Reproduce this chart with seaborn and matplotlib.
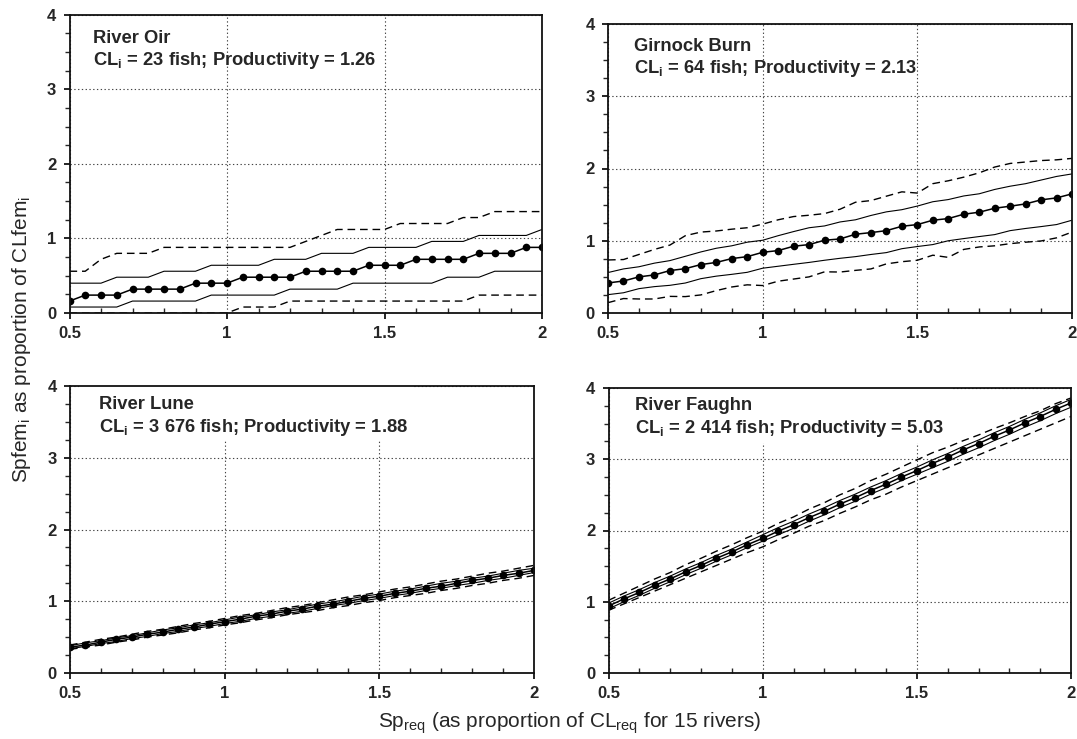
import matplotlib
matplotlib.use("Agg")
import matplotlib.pyplot as plt
from matplotlib.patches import Rectangle
from matplotlib.ticker import MultipleLocator, FixedLocator
import seaborn as sns

sns.set_style("ticks")
plt.rcParams["font.family"] = ["Liberation Sans", "DejaVu Sans"]
plt.rcParams["mathtext.fontset"] = "custom"
plt.rcParams["mathtext.rm"] = "Liberation Sans"
plt.rcParams["mathtext.it"] = "Liberation Sans:italic"
plt.rcParams["mathtext.bf"] = "Liberation Sans:bold"

# Spawning requirement as proportion of the conservation limit
sp_req = [0.50, 0.55, 0.60, 0.65, 0.70, 0.75, 0.80, 0.85, 0.90, 0.95, 1.00,
          1.05, 1.10, 1.15, 1.20, 1.25, 1.30, 1.35, 1.40, 1.45, 1.50,
          1.55, 1.60, 1.65, 1.70, 1.75, 1.80, 1.85, 1.90, 1.95, 2.00]

# River Oir
oir_mean = [0.16, 0.24, 0.24, 0.24, 0.32, 0.32, 0.32, 0.32, 0.40, 0.40, 0.40,
            0.48, 0.48, 0.48, 0.48, 0.56, 0.56, 0.56, 0.56, 0.64, 0.64,
            0.64, 0.72, 0.72, 0.72, 0.72, 0.80, 0.80, 0.80, 0.88, 0.88]
oir_hi = [0.40, 0.40, 0.40, 0.48, 0.48, 0.48, 0.56, 0.56, 0.56, 0.64, 0.64,
          0.64, 0.64, 0.72, 0.72, 0.72, 0.80, 0.80, 0.80, 0.88, 0.88,
          0.88, 0.88, 0.96, 0.96, 0.96, 1.04, 1.04, 1.04, 1.04, 1.12]
oir_lo = [0.08, 0.08, 0.08, 0.08, 0.16, 0.16, 0.16, 0.16, 0.16, 0.24, 0.24,
          0.24, 0.24, 0.24, 0.32, 0.32, 0.32, 0.32, 0.40, 0.40, 0.40,
          0.40, 0.40, 0.40, 0.48, 0.48, 0.48, 0.56, 0.56, 0.56, 0.56]
oir_hi95 = [0.56, 0.56, 0.72, 0.80, 0.80, 0.80, 0.88, 0.88, 0.88, 0.88, 0.88,
            0.88, 0.88, 0.88, 0.88, 0.96, 1.04, 1.12, 1.12, 1.12, 1.12,
            1.20, 1.20, 1.20, 1.20, 1.28, 1.28, 1.36, 1.36, 1.36, 1.36]
oir_lo95 = [0.00, 0.00, 0.00, 0.00, 0.00, 0.00, 0.00, 0.00, 0.00, 0.00, 0.00,
            0.08, 0.08, 0.08, 0.16, 0.16, 0.16, 0.16, 0.16, 0.16, 0.16,
            0.16, 0.16, 0.16, 0.16, 0.16, 0.24, 0.24, 0.24, 0.24, 0.24]

# Girnock Burn
gir_mean = [0.416, 0.443, 0.500, 0.527, 0.587, 0.614, 0.670, 0.700, 0.753, 0.780, 0.840,
            0.864, 0.924, 0.947, 1.007, 1.025, 1.090, 1.113, 1.140, 1.200, 1.224,
            1.284, 1.307, 1.367, 1.395, 1.450, 1.478, 1.510, 1.566, 1.593, 1.649]
gir_hi = [0.560, 0.610, 0.640, 0.690, 0.725, 0.785, 0.845, 0.896, 0.930, 0.980, 1.007,
          1.070, 1.127, 1.180, 1.205, 1.260, 1.290, 1.350, 1.400, 1.430, 1.480,
          1.540, 1.570, 1.620, 1.650, 1.710, 1.755, 1.790, 1.840, 1.890, 1.925]
gir_lo = [0.254, 0.280, 0.337, 0.365, 0.383, 0.415, 0.475, 0.510, 0.535, 0.563, 0.620,
          0.647, 0.674, 0.700, 0.730, 0.757, 0.780, 0.810, 0.836, 0.890, 0.920,
          0.947, 1.000, 1.030, 1.058, 1.085, 1.140, 1.170, 1.196, 1.224, 1.284]
gir_hi95 = [0.734, 0.740, 0.810, 0.880, 0.940, 1.070, 1.120, 1.135, 1.160, 1.180, 1.230,
            1.290, 1.335, 1.353, 1.376, 1.436, 1.533, 1.556, 1.617, 1.677, 1.660,
            1.790, 1.830, 1.880, 1.940, 2.020, 2.070, 2.090, 2.110, 2.120, 2.140]
gir_lo95 = [0.143, 0.200, 0.194, 0.194, 0.230, 0.227, 0.250, 0.310, 0.360, 0.390, 0.380,
            0.440, 0.470, 0.500, 0.570, 0.567, 0.590, 0.610, 0.680, 0.710, 0.730,
            0.800, 0.770, 0.880, 0.914, 0.930, 0.960, 0.980, 0.997, 1.040, 1.120]

# River Lune
lune_mean = [0.36, 0.39, 0.43, 0.47, 0.50, 0.54, 0.57, 0.61, 0.64, 0.68, 0.715,
             0.75, 0.79, 0.82, 0.86, 0.89, 0.93, 0.96, 1.00, 1.04, 1.07,
             1.11, 1.14, 1.18, 1.21, 1.25, 1.29, 1.32, 1.36, 1.39, 1.43]
lune_hi = [0.38, 0.42, 0.45, 0.49, 0.52, 0.56, 0.60, 0.63, 0.67, 0.70, 0.74,
           0.78, 0.81, 0.85, 0.88, 0.92, 0.96, 0.99, 1.03, 1.07, 1.10,
           1.14, 1.17, 1.21, 1.25, 1.28, 1.32, 1.35, 1.39, 1.43, 1.46]
lune_lo = [0.34, 0.37, 0.41, 0.44, 0.48, 0.51, 0.55, 0.58, 0.62, 0.65, 0.69,
           0.72, 0.76, 0.79, 0.83, 0.86, 0.90, 0.94, 0.97, 1.01, 1.04,
           1.08, 1.11, 1.15, 1.18, 1.22, 1.25, 1.29, 1.32, 1.36, 1.40]
lune_hi95 = [0.39, 0.43, 0.47, 0.50, 0.54, 0.58, 0.61, 0.65, 0.69, 0.72, 0.76,
             0.80, 0.83, 0.87, 0.91, 0.94, 0.98, 1.02, 1.06, 1.09, 1.13,
             1.17, 1.20, 1.24, 1.28, 1.31, 1.35, 1.39, 1.42, 1.46, 1.50]
lune_lo95 = [0.33, 0.36, 0.39, 0.43, 0.46, 0.50, 0.53, 0.56, 0.60, 0.63, 0.67,
             0.70, 0.74, 0.77, 0.81, 0.84, 0.87, 0.91, 0.94, 0.98, 1.01,
             1.05, 1.08, 1.11, 1.15, 1.18, 1.22, 1.25, 1.29, 1.32, 1.36]

# River Faughn
fau_mean = [0.94, 1.04, 1.13, 1.23, 1.32, 1.42, 1.51, 1.61, 1.70, 1.80, 1.89,
            1.99, 2.08, 2.18, 2.27, 2.37, 2.46, 2.56, 2.65, 2.75, 2.84,
            2.94, 3.03, 3.13, 3.22, 3.32, 3.41, 3.51, 3.60, 3.70, 3.79]
fau_hi = [0.98, 1.08, 1.17, 1.27, 1.36, 1.46, 1.55, 1.65, 1.74, 1.84, 1.94,
          2.04, 2.13, 2.23, 2.32, 2.42, 2.51, 2.61, 2.70, 2.80, 2.89,
          2.99, 3.08, 3.18, 3.27, 3.37, 3.46, 3.56, 3.65, 3.75, 3.84]
fau_lo = [0.90, 1.00, 1.09, 1.19, 1.28, 1.38, 1.47, 1.57, 1.66, 1.76, 1.85,
          1.94, 2.03, 2.13, 2.22, 2.32, 2.41, 2.51, 2.60, 2.70, 2.79,
          2.88, 2.97, 3.07, 3.16, 3.26, 3.35, 3.45, 3.54, 3.64, 3.73]
fau_hi95 = [1.02, 1.12, 1.22, 1.32, 1.41, 1.52, 1.61, 1.71, 1.80, 1.90, 1.99,
            2.10, 2.19, 2.30, 2.39, 2.50, 2.59, 2.70, 2.79, 2.89, 2.99,
            3.09, 3.17, 3.26, 3.34, 3.43, 3.51, 3.60, 3.68, 3.78, 3.86]
fau_lo95 = [0.88, 0.97, 1.06, 1.15, 1.24, 1.33, 1.42, 1.51, 1.60, 1.69, 1.77,
            1.87, 1.96, 2.06, 2.14, 2.24, 2.33, 2.43, 2.51, 2.61, 2.70,
            2.79, 2.88, 2.97, 3.06, 3.15, 3.24, 3.33, 3.42, 3.51, 3.60]

rivers = ["River Oir", "Girnock Burn", "River Lune", "River Faughn"]
cl_fish = ["23", "64", "3 676", "2 414"]
productivity = ["1.26", "2.13", "1.88", "5.03"]
x_ticks = [0.5, 1.0, 1.5, 2.0]
x_ticklabels = ["0.5", "1", "1.5", "2"]
y_ticks = [0, 1, 2, 3, 4]
series = [
    (oir_mean, oir_hi, oir_lo, oir_hi95, oir_lo95),
    (gir_mean, gir_hi, gir_lo, gir_hi95, gir_lo95),
    (lune_mean, lune_hi, lune_lo, lune_hi95, lune_lo95),
    (fau_mean, fau_hi, fau_lo, fau_hi95, fau_lo95),
]

W, H = 1077, 739
# panel boxes in pixels: left, right, top, bottom
boxes = [(69.5, 542, 14.7, 313), (608, 1072, 24, 313),
         (70, 534, 386, 673), (608.5, 1071, 388, 673)]
# baseline offsets (px below the panel top) of the two annotation lines,
# and left position as axes fraction
text_off = [(28.6, 50, 0.049), (27, 49, 0.056), (23, 46, 0.062), (22, 45, 0.057)]

fig = plt.figure(figsize=(W / 100, H / 100), dpi=100)
fig.patch.set_facecolor("white")

for i in range(4):
    l, r, t, b = boxes[i]
    ax = fig.add_axes([l / W, 1 - b / H, (r - l) / W, (b - t) / H])
    mean, hi, lo, hi95, lo95 = series[i]
    dash = (0, (5.5, 3.5))
    sns.lineplot(x=sp_req, y=hi95, ax=ax, color="black", lw=1.0, linestyle=dash)
    sns.lineplot(x=sp_req, y=lo95, ax=ax, color="black", lw=1.0, linestyle=dash)
    sns.lineplot(x=sp_req, y=hi, ax=ax, color="black", lw=0.8)
    sns.lineplot(x=sp_req, y=lo, ax=ax, color="black", lw=0.8)
    sns.lineplot(x=sp_req, y=mean, ax=ax, color="black", lw=1.1,
                 marker="o", markersize=5.5, markeredgewidth=0)

    ax.set_xlim(0.5, 2.0)
    ax.set_ylim(0, 4)
    ax.xaxis.set_major_locator(FixedLocator(x_ticks))
    ax.xaxis.set_minor_locator(MultipleLocator(0.1))
    ax.yaxis.set_major_locator(FixedLocator(y_ticks))
    ax.yaxis.set_minor_locator(MultipleLocator(0.25))
    ax.set_xticklabels(x_ticklabels)
    ax.set_yticklabels([str(v) for v in y_ticks])
    for lab in ax.get_xticklabels() + ax.get_yticklabels():
        lab.set_fontweight("bold")
        lab.set_fontsize(12)
    ax.tick_params(axis="both", which="major", direction="out", length=4.5,
                   width=1.2, pad=5, color="black")
    ax.tick_params(axis="x", which="minor", direction="in", length=3.5, width=1.0)
    ax.tick_params(axis="y", which="minor", direction="out", length=3.5, width=1.0)
    ax.set_xlabel("")
    ax.set_ylabel("")
    ax.grid(which="major", color="#444444", lw=0.8, linestyle=(0, (1.2, 2.2)))
    ax.set_axisbelow(True)
    for s in ax.spines.values():
        s.set_linewidth(1.3)
        s.set_color("#111111")

    ph = b - t
    o1, o2, xf = text_off[i]
    if i >= 2:
        ax.add_patch(Rectangle((0.02, 1 - 55 / ph), 0.72, 55 / ph,
                               transform=ax.transAxes, facecolor="white",
                               edgecolor="none", zorder=1))
    ax.text(xf, 1 - o1 / ph, rivers[i], transform=ax.transAxes,
            fontsize=13.2, fontweight="bold", va="baseline", ha="left", zorder=5)
    ax.text(xf, 1 - o2 / ph,
            r"CL$_\mathbf{i}$ = " + cl_fish[i] + " fish; Productivity = " + productivity[i],
            transform=ax.transAxes, fontsize=13.2, fontweight="bold",
            va="baseline", ha="left", zorder=5)

fig.text(22 / W, 1 - 340 / H, r"Spfem$_\mathrm{i}$ as proportion of CLfem$_\mathrm{i}$",
         rotation=90, ha="center", va="center", fontsize=15)
fig.text(570 / W, 1 - 728 / H,
         r"Sp$_\mathrm{req}$ (as proportion of CL$_\mathrm{req}$ for 15 rivers)",
         ha="center", va="baseline", fontsize=15)

fig.savefig("out.png", dpi=100, facecolor="white")
